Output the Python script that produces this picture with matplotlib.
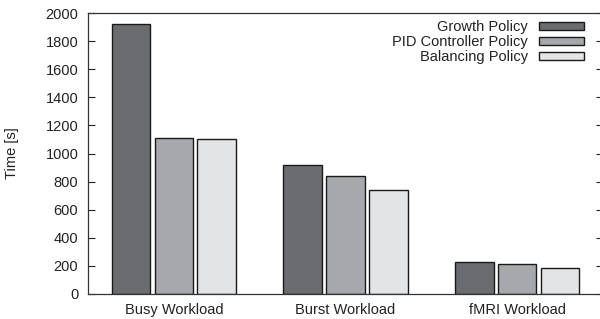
import matplotlib
matplotlib.use("Agg")
import matplotlib.pyplot as plt
import numpy as np

plt.rcParams['font.family'] = ['Liberation Sans', 'DejaVu Sans']

categories = ["Busy Workload", "Burst Workload", "fMRI Workload"]
series_names = ["Growth Policy", "PID Controller Policy", "Balancing Policy"]
growth = [1921, 920, 228]
pid = [1108, 839, 210]
balancing = [1101, 740, 181]
yticks = [0, 200, 400, 600, 800, 1000, 1200, 1400, 1600, 1800, 2000]

colors = ["#6b6c70", "#a7a8ab", "#e3e4e6"]
fs = 10.5

fig = plt.figure(figsize=(6.0, 3.19), dpi=100)
ax = fig.add_axes([88/600, 1-293.7/319, (603-88)/600, (293.7-13.3)/319])

x = np.arange(len(categories))
width = 0.225
offsets = [-0.25, 0.0, 0.25]
for vals, name, c, off in zip([growth, pid, balancing], series_names, colors, offsets):
    ax.bar(x + off, vals, width, color=c, edgecolor="#1a1a1a", linewidth=1.0, label=name)

ax.set_xlim(-0.5, 2.5)
ax.set_ylim(0, 2000)
ax.set_yticks(yticks)
ax.set_xticks(x)
ax.set_xticklabels(categories, fontsize=fs, color="#222222")
ax.tick_params(axis='x', length=0, pad=7)
ax.tick_params(axis='y', direction='in', length=5, width=0.8, right=True, labelsize=fs,
               colors="#222222", pad=7)
ax.yaxis.set_label_coords(-(88-12)/515, 0.5)
ax.set_ylabel("Time [s]", fontsize=fs, color="#222222", va='center')
for s in ax.spines.values():
    s.set_color("#333333")
    s.set_linewidth(0.9)

leg = ax.legend(loc='upper right', bbox_to_anchor=((584-88)/(603-88), 1-(20.5-13.3)/280.4),
                frameon=False, markerfirst=False, fontsize=fs, handlelength=3.1,
                handleheight=0.48, handletextpad=0.75, labelspacing=0.05, borderaxespad=0,
                borderpad=0)
for t in leg.get_texts():
    t.set_color("#222222")

fig.savefig("out.png", dpi=100)
